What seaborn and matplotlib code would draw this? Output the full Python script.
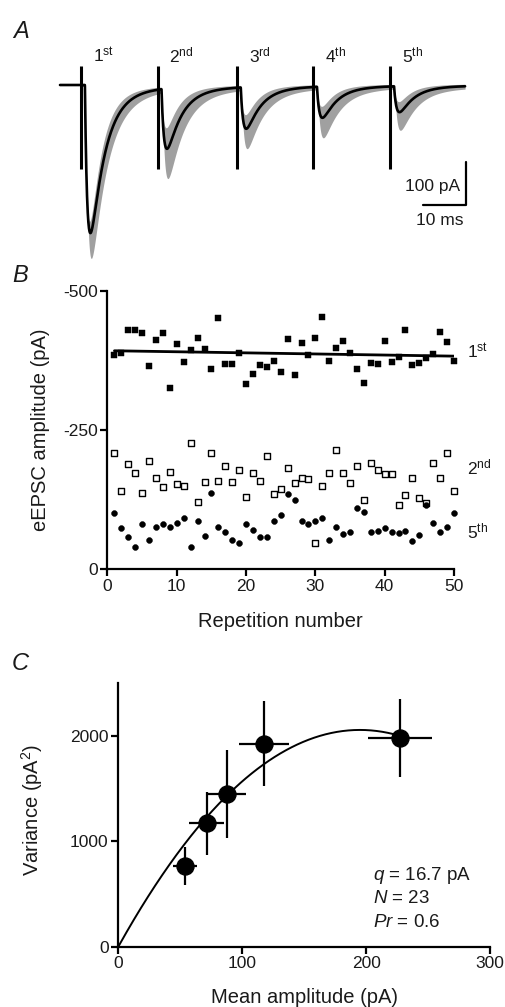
import numpy as np
import pandas as pd
import matplotlib
matplotlib.use("Agg")
from matplotlib import pyplot as plt
import seaborn as sns

W, H = 506, 1007

# ---- panel A: averaged eEPSC train (pA) ----
stim_times = [0.0, 17.7, 36.0, 53.6, 71.4]          # ms
peak_mean = [-342, -139, -96, -72, -60]              # black average trace
peak_gray_lo = [-397, -200, -135, -112, -96]         # most negative single trials
peak_gray_hi = [-318, -95, -68, -50, -40]            # least negative single trials
artifact_top = 45
artifact_bottom = -195
pulse_labels = ["1$^{\\mathrm{st}}$", "2$^{\\mathrm{nd}}$", "3$^{\\mathrm{rd}}$",
                "4$^{\\mathrm{th}}$", "5$^{\\mathrm{th}}$"]
trace_start, trace_end = -4.85, 88.7

# ---- panel B: eEPSC amplitude per repetition (pA) ----
repetition = list(range(1, 51))
amp_1st = [-385, -389, -429, -429, -425, -366, -412, -425, -325, -404,
           -373, -394, -416, -396, -360, -452, -369, -369, -389, -333,
           -350, -367, -364, -375, -355, -413, -349, -407, -385, -416,
           -453, -375, -397, -410, -388, -359, -335, -371, -368, -410,
           -373, -381, -429, -367, -371, -379, -387, -426, -409, -374]
amp_2nd = [-208, -140, -188, -173, -137, -195, -163, -147, -175, -152,
           -149, -227, -121, -156, -208, -159, -185, -157, -178, -130,
           -173, -158, -203, -135, -143, -181, -154, -164, -161, -47,
           -149, -173, -214, -172, -154, -185, -125, -191, -178, -171,
           -171, -115, -133, -164, -127, -118, -190, -164, -209, -140]
amp_5th = [-101, -74, -58, -40, -81, -53, -76, -81, -76, -83,
           -91, -40, -87, -59, -136, -76, -67, -53, -47, -81,
           -71, -58, -58, -87, -98, -134, -124, -87, -81, -87,
           -91, -53, -75, -63, -67, -109, -103, -67, -68, -74,
           -67, -64, -68, -50, -61, -116, -82, -67, -75, -100]

# ---- panel C: variance-mean ----
mean_amp = [53.8, 71.3, 87.4, 117.5, 227.2]
mean_err = [9.8, 14.4, 16.0, 20.0, 26.0]
variance = [764, 1172, 1449, 1927, 1980]
var_err = [178, 297, 418, 406, 374]
fit_a, fit_b = 21.1, 0.0541      # parabola var = a*I - b*I^2
fit_end = 228

sns.set_style("ticks")
plt.rcParams["font.family"] = ["Liberation Sans", "DejaVu Sans"]
plt.rcParams["mathtext.fontset"] = "custom"
plt.rcParams["mathtext.rm"] = "Liberation Sans"
plt.rcParams["mathtext.it"] = "Liberation Sans:italic"
plt.rcParams["mathtext.bf"] = "Liberation Sans:bold"
plt.rcParams["axes.unicode_minus"] = False
plt.rcParams["text.color"] = "#1a1a1a"
plt.rcParams["axes.labelcolor"] = "#1a1a1a"

fig = plt.figure(figsize=(W / 100, H / 100), dpi=100)


def px_axes(left, top, right, bottom):
    return fig.add_axes([left / W, 1 - bottom / H, (right - left) / W, (bottom - top) / H])


def kernel(t, t0, tau_r=0.6, tau_d=3.3, delay=0.9, slow=0.04, tau_s=15.0):
    s = np.clip(t - t0 - delay, 0, None)
    k = np.exp(-s / tau_d) - np.exp(-s / tau_r) + slow * (np.exp(-s / tau_s) - np.exp(-s / tau_r))
    return k / k.max()


# ---------------- A ----------------
ax_a = px_axes(0, 0, W, 260)
px_ms, px_pa = 4.33, 0.433
ax_a.set_xlim(-81 / px_ms, (W - 81) / px_ms)
ax_a.set_ylim(-(260 - 85) / px_pa, 85 / px_pa)
ax_a.set_axis_off()

t = np.linspace(trace_start, trace_end, 4000)
mean_trace = np.zeros_like(t)
lo_trace = np.zeros_like(t)
hi_trace = np.zeros_like(t)
for t0, m, lo, hi in zip(stim_times, peak_mean, peak_gray_lo, peak_gray_hi):
    mean_trace += m * kernel(t, t0)
    lo_trace += lo * kernel(t, t0 + 0.15, tau_d=3.7, slow=0.05)
    hi_trace += hi * kernel(t, t0 - 0.1, tau_d=2.8)
noise = np.where(t > 0.5, 3.5, 0.0)
ax_a.fill_between(t, np.minimum(lo_trace, mean_trace) - noise,
                  np.maximum(hi_trace, mean_trace) + noise,
                  color="#a0a0a0", lw=0)
trace_df = pd.DataFrame({"t": t, "I": mean_trace})
sns.lineplot(data=trace_df, x="t", y="I", color="black", lw=1.9, ax=ax_a, sort=False)
ax_a.vlines(stim_times, artifact_bottom, artifact_top, color="black", lw=2.2)
for t0, lab in zip(stim_times, pulse_labels):
    ax_a.text(t0 + 2.7, 53, lab, fontsize=12.5, ha="left", va="baseline")
# scale bars
ax_a.plot([78.9, 88.9, 88.9], [-277, -277, -177], color="black", lw=1.6)
ax_a.text(87.6, -235, "100 pA", fontsize=12.5, ha="right", va="center")
ax_a.text(82.9, -313, "10 ms", fontsize=12.5, ha="center", va="center")

# ---------------- B ----------------
ax_b = px_axes(107.5, 291, 454, 569)
sns.regplot(x=repetition, y=amp_1st, scatter=False, ci=None, color="black",
            line_kws=dict(lw=2.0), ax=ax_b)
sns.scatterplot(x=repetition, y=amp_2nd, marker="s", s=24, facecolor="white",
                edgecolor="black", linewidth=1.0, ax=ax_b, clip_on=False, zorder=3)
sns.scatterplot(x=repetition, y=amp_5th, marker="o", s=18, color="black",
                edgecolor="black", ax=ax_b, clip_on=False, zorder=4)
sns.scatterplot(x=repetition, y=amp_1st, marker="s", s=16, color="black",
                edgecolor="black", ax=ax_b, clip_on=False, zorder=4)
ax_b.set_xlim(0, 50)
ax_b.set_ylim(0, -500)
ax_b.set_xticks([0, 10, 20, 30, 40, 50])
ax_b.set_yticks([-500, -250, 0])
ax_b.set_xlabel("Repetition number", fontsize=14.5)
ax_b.set_ylabel("eEPSC amplitude (pA)", fontsize=14.5)
ax_b.xaxis.set_label_coords(0.5, -0.155)
ax_b.yaxis.set_label_coords(-0.165, 0.5)
ax_b.text(51.9, -391, "1$^{\\mathrm{st}}$", fontsize=12.5, va="center")
ax_b.text(51.9, -182, "2$^{\\mathrm{nd}}$", fontsize=12.5, va="center")
ax_b.text(51.9, -67, "5$^{\\mathrm{th}}$", fontsize=12.5, va="center")

# ---------------- C ----------------
ax_c = px_axes(118.3, 683.3, 490, 946.7)
ax_c.errorbar(mean_amp, variance, xerr=mean_err, yerr=var_err, fmt="none",
              ecolor="black", elinewidth=1.6, capsize=0, zorder=2)
sns.scatterplot(x=mean_amp, y=variance, s=150, color="black", edgecolor="black",
                ax=ax_c, zorder=3, clip_on=False)
amp_grid = np.linspace(0, fit_end, 200)
sns.lineplot(x=amp_grid, y=fit_a * amp_grid - fit_b * amp_grid ** 2, color="black",
             lw=1.4, ax=ax_c, zorder=2)
ax_c.set_xlim(0, 300)
ax_c.set_ylim(0, 2500)
ax_c.set_xticks([0, 100, 200, 300])
ax_c.set_yticks([0, 1000, 2000])
ax_c.set_xlabel("Mean amplitude (pA)", fontsize=14.5)
ax_c.set_ylabel("Variance (pA$^2$)", fontsize=14.5)
ax_c.xaxis.set_label_coords(0.5, -0.155)
ax_c.yaxis.set_label_coords(-0.197, 0.52)
ax_c.text(205.3, 680, "$q$ = 16.7 pA", fontsize=13.5, va="center")
ax_c.text(205.3, 457, "$N$ = 23", fontsize=13.5, va="center")
ax_c.text(205.3, 225, "$Pr$ = 0.6", fontsize=13.5, va="center")

for ax in (ax_b, ax_c):
    sns.despine(ax=ax)
    for sp in ("left", "bottom"):
        ax.spines[sp].set_linewidth(1.6)
        ax.spines[sp].set_color("black")
    ax.tick_params(direction="out", length=5, width=1.6, labelsize=12.5, colors="black",
                   labelcolor="#1a1a1a", pad=2)

fig.text(13 / W, 1 - 32 / H, "A", fontsize=17, style="italic", va="center")
fig.text(12 / W, 1 - 276 / H, "B", fontsize=17, style="italic", va="center")
fig.text(12 / W, 1 - 664 / H, "C", fontsize=17, style="italic", va="center")

fig.savefig("out.png", dpi=100)
